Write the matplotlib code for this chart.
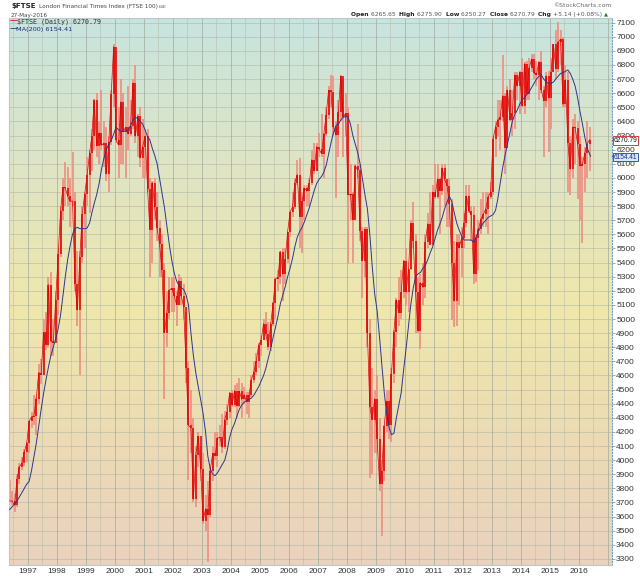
import matplotlib
matplotlib.use('Agg')
import matplotlib.pyplot as plt
import matplotlib.dates as mdates
from matplotlib.colors import LinearSegmentedColormap
import numpy as np
import pandas as pd

# monthly FTSE 100, May 1996 .. May 2016
close = [
    3711, 3711, 3680, 3867, 3953, 3979, 4058, 4119,
    4275, 4308, 4312, 4436, 4621, 4605, 4907, 4818, 5244, 4842, 4831, 5136,
    5458, 5767, 5932, 5928, 5870, 5833, 5837, 5249, 5064, 5438, 5743, 5883,
    6019, 6176, 6296, 6552, 6226, 6319, 6231, 6246, 6030, 6255, 6597, 6930,
    6268, 6232, 6540, 6327, 6360, 6313, 6365, 6672, 6294, 6438, 6142, 6222,
    6297, 5918, 5634, 5967, 5796, 5643, 5529, 5345, 4903, 5040, 5204, 5217,
    5165, 5101, 5272, 5165, 5086, 4656, 4246, 4228, 3722, 4039, 4170, 3940,
    3567, 3656, 3613, 3926, 4048, 4031, 4157, 4161, 4091, 4288, 4343, 4477,
    4390, 4492, 4386, 4489, 4431, 4464, 4413, 4459, 4571, 4624, 4703, 4814,
    4852, 4968, 4894, 4801, 4964, 5113, 5282, 5296, 5478, 5317, 5423, 5619,
    5760, 5792, 5965, 6023, 5724, 5833, 5928, 5906, 5961, 6129, 6049, 6221,
    6203, 6172, 6308, 6449, 6621, 6608, 6360, 6303, 6467, 6722, 6432, 6457,
    5880, 5884, 5702, 6087, 6054, 5626, 5412, 5637, 4902, 4377, 4288, 4434,
    4150, 3830, 3926, 4244, 4418, 4249, 4608, 4909, 5134, 5045, 5191, 5413,
    5189, 5355, 5680, 5553, 5188, 4917, 5258, 5225, 5549, 5675, 5528, 5900,
    5863, 5994, 5909, 6070, 5990, 5946, 5815, 5395, 5128, 5544, 5505, 5572,
    5682, 5872, 5768, 5738, 5321, 5571, 5635, 5711, 5742, 5783, 5867, 5898,
    6277, 6361, 6412, 6430, 6583, 6215, 6621, 6413, 6462, 6731, 6651, 6749,
    6510, 6810, 6598, 6780, 6844, 6744, 6730, 6820, 6623, 6546, 6723, 6566,
    6749, 6947, 6773, 6961, 6984, 6521, 6696, 6248, 6062, 6361, 6356, 6242,
    6084, 6097, 6175, 6242, 6271,
]
high = [
    3860, 3780, 3760, 3900, 3980, 4020, 4080, 4130,
    4280, 4340, 4460, 4450, 4680, 4720, 5000, 5050, 5300, 5330, 5000, 5200,
    5500, 5800, 6000, 6110, 6080, 6000, 6180, 5900, 5480, 5480, 5800, 5900,
    6150, 6200, 6350, 6560, 6600, 6400, 6620, 6400, 6360, 6300, 6620, 6950,
    6900, 6500, 6700, 6600, 6500, 6650, 6550, 6700, 6800, 6450, 6500, 6420,
    6350, 6350, 6000, 5980, 6000, 5900, 5700, 5600, 5400, 5200, 5300, 5300,
    5300, 5200, 5320, 5300, 5250, 5050, 4700, 4500, 4300, 4100, 4200, 4100,
    4050, 3750, 3850, 3950, 4100, 4200, 4200, 4250, 4330, 4350, 4400, 4480,
    4500, 4530, 4550, 4580, 4550, 4520, 4480, 4480, 4600, 4700, 4760, 4830,
    4880, 5000, 5050, 4980, 4980, 5120, 5300, 5350, 5480, 5500, 5500, 5620,
    5760, 5900, 6000, 6130, 6140, 5900, 5950, 5950, 6000, 6200, 6250, 6250,
    6320, 6450, 6320, 6500, 6650, 6730, 6720, 6400, 6550, 6730, 6700, 6600,
    6500, 6100, 5900, 6100, 6380, 6100, 5650, 5650, 5650, 5000, 4650, 4500,
    4600, 4300, 4000, 4250, 4500, 4500, 4650, 4920, 5150, 5300, 5350, 5420,
    5500, 5350, 5700, 5830, 5600, 5300, 5320, 5400, 5600, 5750, 5900, 5950,
    6100, 6100, 6000, 6100, 6100, 5950, 6000, 5850, 5550, 5600, 5600, 5650,
    5750, 5950, 5950, 5800, 5800, 5600, 5700, 5850, 5900, 5900, 5900, 5970,
    6300, 6400, 6550, 6550, 6870, 6600, 6650, 6700, 6620, 6750, 6750, 6760,
    6850, 6820, 6830, 6850, 6880, 6880, 6830, 6830, 6900, 6650, 6750, 6760,
    6850, 6950, 7050, 7104, 7050, 7000, 6800, 6750, 6300, 6420, 6450, 6400,
    6300, 6150, 6220, 6400, 6360,
]
low = [
    3700, 3680, 3630, 3670, 3830, 3930, 3960, 3990,
    4050, 4230, 4250, 4180, 4400, 4540, 4600, 4780, 4800, 4740, 4740, 4860,
    5030, 5440, 5700, 5800, 5800, 5650, 5800, 5200, 4950, 4600, 5400, 5500,
    5800, 5750, 6050, 6200, 6150, 6100, 6200, 6080, 5980, 5900, 6230, 6500,
    6250, 6000, 6100, 6100, 6000, 6200, 6300, 6350, 6250, 6150, 6080, 6000,
    6000, 5900, 5300, 5400, 5700, 5550, 5300, 5300, 4430, 4800, 5000, 5050,
    5050, 4950, 5100, 5100, 5000, 4550, 3860, 4050, 3700, 3670, 3950, 3850,
    3550, 3500, 3277, 3600, 3850, 4000, 3950, 4100, 4050, 4080, 4250, 4300,
    4380, 4380, 4300, 4380, 4300, 4400, 4330, 4300, 4450, 4550, 4600, 4650,
    4740, 4850, 4880, 4780, 4770, 4950, 5000, 5200, 5250, 5130, 5250, 5400,
    5580, 5720, 5780, 5950, 5500, 5470, 5700, 5800, 5800, 5950, 6030, 6050,
    6150, 6150, 6000, 6300, 6420, 6500, 6300, 5860, 6150, 6400, 6150, 6300,
    5400, 5700, 5400, 5700, 6000, 5550, 5150, 5300, 4800, 3870, 3900, 4050,
    4050, 3780, 3460, 3850, 4200, 4150, 4130, 4550, 4800, 4950, 5000, 5150,
    5100, 5050, 5350, 5500, 4900, 4900, 4790, 5100, 5150, 5500, 5550, 5600,
    5850, 5850, 5600, 5880, 5800, 5650, 5650, 4990, 4940, 4950, 5100, 5300,
    5500, 5650, 5750, 5550, 5250, 5260, 5350, 5600, 5650, 5650, 5600, 5850,
    5880, 6150, 6300, 6200, 6400, 6030, 6250, 6400, 6300, 6350, 6550, 6450,
    6500, 6450, 6550, 6550, 6750, 6700, 6650, 6550, 6600, 6150, 6500, 6180,
    6350, 6750, 6700, 6750, 6800, 6500, 6500, 5900, 5880, 6000, 6100, 5850,
    5700, 5536, 5900, 6000, 6050,
]
ma200 = [
    3650, 3670, 3690, 3710, 3740, 3770, 3800, 3830,
    3850, 3930, 4020, 4120, 4240, 4360, 4470, 4570, 4660, 4740, 4800, 4860,
    4930, 5030, 5160, 5300, 5420, 5520, 5600, 5640, 5650, 5640, 5640, 5640,
    5645, 5680, 5750, 5820, 5880, 5960, 6060, 6140, 6200, 6240, 6265, 6310,
    6360, 6340, 6330, 6330, 6330, 6340, 6370, 6410, 6430, 6420, 6400, 6380,
    6340, 6290, 6270, 6210, 6160, 6100, 6000, 5900, 5790, 5660, 5530, 5420,
    5330, 5270, 5240, 5220, 5210, 5170, 5100, 4900, 4740, 4620, 4520, 4430,
    4330, 4200, 4030, 3940, 3900, 3890, 3910, 3940, 3970, 4000, 4070, 4160,
    4220, 4260, 4310, 4360, 4390, 4410, 4420, 4430, 4440, 4460, 4490, 4520,
    4560, 4600, 4650, 4720, 4790, 4870, 4940, 5020, 5110, 5170, 5230, 5300,
    5360, 5430, 5510, 5580, 5620, 5650, 5690, 5740, 5790, 5850, 5910, 5960,
    5990, 6010, 6040, 6090, 6170, 6250, 6320, 6370, 6380, 6410, 6430, 6435,
    6430, 6380, 6300, 6240, 6180, 6100, 5990, 5880, 5780, 5600, 5370, 5180,
    5060, 4870, 4680, 4480, 4330, 4230, 4180, 4190, 4300, 4390, 4480, 4640,
    4790, 4950, 5100, 5220, 5300, 5320, 5330, 5360, 5380, 5420, 5470, 5510,
    5570, 5630, 5670, 5720, 5780, 5830, 5870, 5830, 5750, 5680, 5630, 5590,
    5560, 5560, 5560, 5560, 5545, 5580, 5620, 5660, 5680, 5700, 5720, 5730,
    5740, 5770, 5850, 5960, 6070, 6160, 6240, 6320, 6400, 6450, 6480, 6520,
    6550, 6570, 6590, 6610, 6640, 6670, 6700, 6720, 6730, 6700, 6680, 6670,
    6670, 6680, 6700, 6720, 6740, 6745, 6755, 6765, 6740, 6700, 6650, 6570,
    6470, 6380, 6290, 6210, 6154,
]
years = list(range(1997, 2017))
last_close = 6270.79
last_ma = 6154.41
header_vals = [('Open', '6265.65'), ('High', '6275.90'), ('Low', '6250.27'),
               ('Close', '6270.79'), ('Chg', '+5.14 (+0.08%)')]

dates = pd.date_range('1996-05-01', periods=len(close), freq='MS') + pd.Timedelta(days=14)
opens = [close[0]] + close[:-1]

W, H = 640, 576
fig = plt.figure(figsize=(W / 100, H / 100), dpi=100)
ax = fig.add_axes([9 / W, 11 / H, (612 - 9) / W, (565 - 18) / H])
renderer = fig.canvas.get_renderer()

x0 = mdates.date2num(pd.Timestamp('1996-05-06'))
x1 = mdates.date2num(pd.Timestamp('2017-02-21'))
y0, y1 = 3257, 7133

# background gradient
cmap = LinearSegmentedColormap.from_list(
    'bg', [(0.0, '#ead2be'), (0.25, '#ecdcb4'), (0.47, '#efe7ab'),
           (0.72, '#e0e4c4'), (1.0, '#c7e4df')])
ax.imshow(np.linspace(0, 1, 256).reshape(-1, 1), extent=[x0, x1, y0, y1],
          origin='lower', aspect='auto', cmap=cmap, zorder=0)

# grid
ax.hlines(np.arange(3300, 7101, 100), x0, x1, colors='#aab3a4', lw=0.6, alpha=0.6, zorder=1)
half = pd.date_range('1996-07-01', '2017-01-01', freq='6MS')
for d in half:
    if d.month == 1:
        ax.axvline(d, color='#9aa596', lw=0.7, alpha=0.65, zorder=1)
    else:
        ax.axvline(d, color='#b4bcaa', lw=0.6, alpha=0.6, zorder=1)

# price bars
ax.vlines(dates, low, high, colors='#ec9484', lw=1.3, zorder=2)
ax.vlines(dates, np.minimum(opens, close), np.maximum(opens, close), colors='#e00000', lw=1.1, zorder=3)
ax.plot(dates, close, color='#e00000', lw=0.5, zorder=3)

# moving average
ma_dates = list(dates[:-1]) + [pd.Timestamp('2016-05-27')]
ax.plot(ma_dates, ma200, color='#2c3590', lw=0.7, zorder=4)

ax.set_xlim(x0, x1)
ax.set_ylim(y0, y1)

ax.set_xticks([pd.Timestamp(f'{y}-01-01') for y in years])
ax.set_xticklabels([str(y) for y in years])
ax.yaxis.tick_right()
ax.set_yticks(np.arange(3300, 7101, 100))
ax.tick_params(axis='x', length=0, pad=2, labelsize=6, labelcolor='#333333')
ax.tick_params(axis='y', length=2, width=0.5, color='#888888', pad=1, labelsize=6, labelcolor='#333333')
for lab in ax.get_xticklabels() + ax.get_yticklabels():
    lab.set_family('Liberation Sans')

for s in ['left', 'top', 'bottom']:
    ax.spines[s].set_color('#b8c8cc')
    ax.spines[s].set_linewidth(0.8)
ax.spines['right'].set_color('#6f9ec4')
ax.spines['right'].set_linestyle(':')
ax.spines['right'].set_linewidth(0.8)


def px(x, y):
    return x / W, 1 - y / H


def fitted(x, y, s, width, **kw):
    kw.setdefault('va', 'baseline')
    t = fig.text(*px(x, y), s, fontsize=6, **kw)
    w = t.get_window_extent(renderer=renderer).width
    t.set_fontsize(6 * width / w)
    return t


# legend inside plot
fig.text(*px(9.5, 21), '\u2014', color='#e00000', fontsize=5.5, va='center', ha='left',
         family='DejaVu Sans')
fitted(17, 23.3, r'\$FTSE (Daily) 6270.79', 83, color='#333333', family='DejaVu Sans Mono')
fig.text(*px(9.5, 28.7), '\u2014', color='#1c2a80', fontsize=5.5, va='center', ha='left',
         family='DejaVu Sans')
fitted(16.5, 31, 'MA(200) 6154.41', 56, color='#1c2a80', family='DejaVu Sans')

# last-value markers on the right axis
trans = ax.get_yaxis_transform()
for val, fc, ec, tc in [(last_close, '#ffffff', '#d04040', '#111111'),
                        (last_ma, '#d8eaf8', '#3a5a9a', '#1c2a80')]:
    y_px = 565 - (val - y0) / (y1 - y0) * (565 - 18)
    fitted(614, y_px + 2.4, f'{val:.2f}', 24, color=tc, ha='left', family='Liberation Sans',
           zorder=6, bbox=dict(boxstyle='square,pad=0.1', fc=fc, ec=ec, lw=0.7))
    ax.plot([1.003], [val], marker='<', ms=3.5, mfc=fc, mec=ec, mew=0.6,
            transform=trans, clip_on=False, zorder=7)

# header, left
fitted(11, 8, r'\$FTSE', 25, fontweight='bold', color='#222222', family='DejaVu Sans')
fitted(39, 8, 'London Financial Times Index (FTSE 100)', 118, color='#444444',
       family='DejaVu Sans')
fitted(159, 8, 'LSE', 8, color='#555555', family='DejaVu Sans')
fitted(11, 16.5, '27-May-2016', 37, color='#444444', family='DejaVu Sans')
fitted(553, 7, '\u00a9StockCharts.com', 59, color='#666666', family='DejaVu Sans')

# header, right: chained bold labels and values, fitted to 351..602
parts = []
for i, (k, v) in enumerate(header_vals):
    parts.append((k + ' ', 'bold', '#222222'))
    parts.append((v + ('  ' if i < len(header_vals) - 1 else ''), 'normal', '#555555'))
texts = [fig.text(0, 0, s, fontsize=6, fontweight=wt, color=c, family='DejaVu Sans',
                  va='baseline') for s, wt, c in parts]
total = sum(t.get_window_extent(renderer=renderer).width for t in texts)
fs = 6 * (602 - 351) / total
xpos = 351
for t in texts:
    t.set_fontsize(fs)
    t.set_position(px(xpos, 16.3))
    xpos += t.get_window_extent(renderer=renderer).width
fig.text(*px(604, 15.5), '\u25b2', fontsize=3.8, color='#208020', family='DejaVu Sans',
         va='baseline')

fig.savefig('out.png', dpi=100)
